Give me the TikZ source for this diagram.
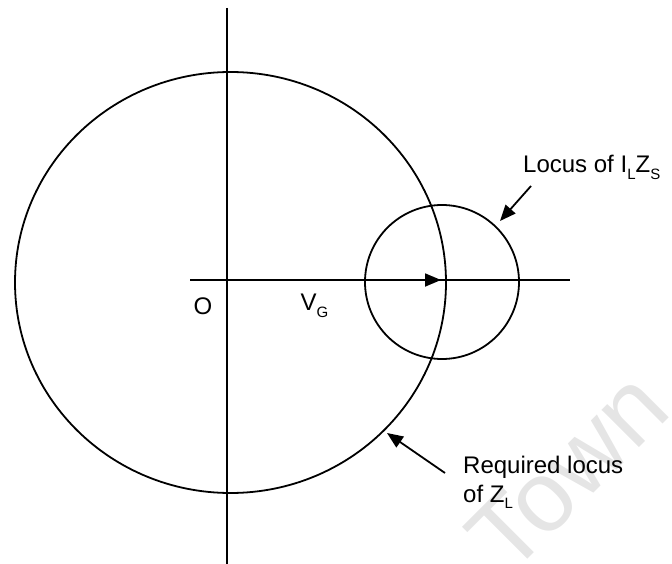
\documentclass[tikz,border=0pt]{standalone}
\usepackage{fontspec}
\setmainfont{Liberation Sans}
\usetikzlibrary{arrows.meta}
\newcommand{\lsub}[1]{\raisebox{-0.28em}{\fontsize{15}{15}\selectfont #1}}
\tikzset{
  ln/.style={line width=1.8pt, black},
  lbl/.style={inner sep=0pt, font=\fontsize{24}{29}\selectfont},
  tip/.style={-{Triangle[length=16pt,width=13pt]}},
  wm/.style={inner sep=0pt, text=black!10, font=\fontsize{100}{100}\selectfont}
}
\begin{document}
\begin{tikzpicture}[x=1pt,y=-1pt]
\useasboundingbox (0,0) rectangle (672,564);
% watermark
\node[wm, rotate=45, anchor=base west] (town) at (509,578) {Town};
% coordinates
\coordinate (vtop) at (227,8);
\coordinate (vbot) at (227,564);
\coordinate (hleft) at (190,280);
\coordinate (hright) at (570,280);
\coordinate (orig) at (227,280);
\coordinate (vgtip) at (441,280);
\coordinate (bigc) at (230.5,282.5);
\coordinate (smallc) at (442,282);
% circles
\draw[ln] (bigc) ellipse [x radius=215.5, y radius=210.5];
\draw[ln] (smallc) circle [radius=77];
% axes
\draw[ln] (vtop) -- (vbot);
\draw[ln] (hleft) -- (hright);
\draw[ln, tip] (orig) -- (vgtip);
% labels
\node[lbl] (o) at (203,306) {O};
\node[lbl] (vg) at (314.5,306) {V\lsub{G}};
\node[lbl, anchor=base west] (locus) at (523,173) {Locus of I\lsub{L}Z\lsub{S}};
\node[lbl, anchor=base west] (req1) at (463,473) {Required locus};
\node[lbl, anchor=base west] (req2) at (463,502) {of Z\lsub{L}};
% pointer arrows
\coordinate (a1s) at (531,186);
\coordinate (a1e) at (500,221);
\coordinate (a2s) at (445,473);
\coordinate (a2e) at (387,433);
\draw[ln, tip] (a1s) -- (a1e);
\draw[ln, tip] (a2s) -- (a2e);
\end{tikzpicture}
\end{document}
